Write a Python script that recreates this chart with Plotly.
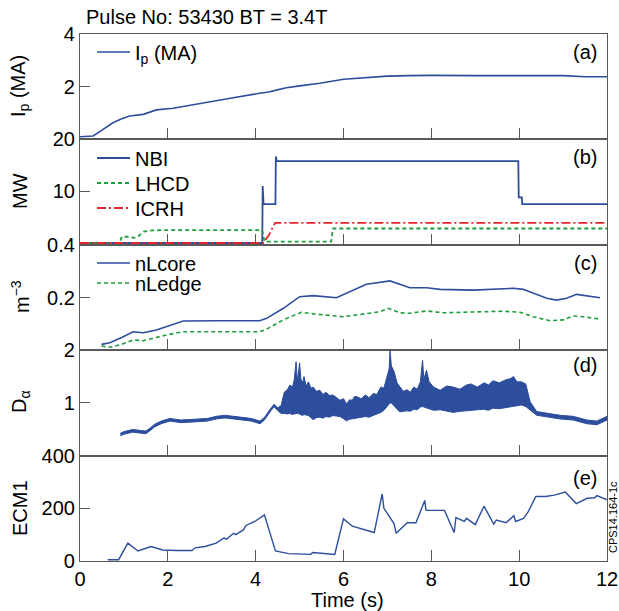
import plotly.graph_objects as go
from plotly.subplots import make_subplots

# ---------------- data ----------------
ip_t = [0, 0.3, 0.5, 0.75, 0.95, 1.13, 1.44, 1.6, 1.74, 2.12, 2.73, 3.49, 4.09, 4.3, 4.47, 4.7, 5.0, 5.46,
        6.0, 6.5, 7.0, 7.5, 8.0, 9.0, 10.0, 10.5, 11.0, 11.5, 12.0]
ip_v = [0.1, 0.13, 0.35, 0.63, 0.78, 0.89, 0.95, 1.03, 1.12, 1.18, 1.37, 1.58, 1.75, 1.8, 1.87, 1.96, 2.03, 2.13,
        2.28, 2.33, 2.4, 2.42, 2.43, 2.42, 2.43, 2.42, 2.42, 2.38, 2.38]

nbi_t = [0, 4.15, 4.16, 4.18, 4.45, 4.46, 4.48, 9.98, 9.99, 10.06, 10.07, 12]
nbi_v = [0, 0, 11, 7.5, 7.5, 16.7, 15.8, 15.8, 8.8, 8.8, 7.5, 7.5]

lhcd_t = [0, 0.9, 0.95, 1.15, 1.22, 1.3, 1.45, 1.65, 2.0, 4.15, 4.2, 5.72, 5.76, 12]
lhcd_v = [0, 0, 1.2, 1.2, 1.0, 1.1, 2.2, 2.45, 2.48, 2.48, 0.28, 0.28, 2.8, 2.8]

icrh_t = [0, 4.17, 4.3, 4.44, 12]
icrh_v = [0, 0, 1.5, 3.9, 3.9]

core_t = [0.49, 0.68, 0.95, 1.21, 1.32, 1.44, 1.74, 2.0, 2.35, 3.1, 4.09, 4.25, 4.63, 5.0, 5.31, 5.84, 6.07,
          6.52, 7.06, 7.51, 7.89, 8.2, 8.95, 9.87, 10.09, 10.63, 10.85, 11.08, 11.31, 11.61, 11.84]
core_v = [0.022, 0.028, 0.048, 0.070, 0.068, 0.066, 0.077, 0.092, 0.111, 0.112, 0.112, 0.121, 0.159, 0.203,
          0.207, 0.199, 0.216, 0.25, 0.263, 0.237, 0.237, 0.231, 0.228, 0.235, 0.231, 0.197, 0.19, 0.197,
          0.212, 0.206, 0.199]

edge_t = [0.49, 0.68, 0.95, 1.21, 1.44, 1.97, 2.35, 4.09, 4.25, 4.63, 5.04, 5.31, 6.0, 6.3, 6.83, 7.02, 7.28,
          7.51, 7.89, 8.27, 8.95, 9.64, 10.02, 10.32, 10.7, 11.0, 11.23, 11.46, 11.84]
edge_v = [0.016, 0.011, 0.022, 0.039, 0.036, 0.058, 0.070, 0.070, 0.080, 0.115, 0.144, 0.138, 0.127, 0.134,
          0.146, 0.159, 0.142, 0.140, 0.149, 0.142, 0.144, 0.148, 0.144, 0.127, 0.112, 0.115, 0.130, 0.127,
          0.118]

# D-alpha: lower / upper envelope of the band
da_t = [0.92, 1.0, 1.2, 1.35, 1.5, 1.6, 1.7, 1.85, 2.05, 2.3, 2.6, 2.9, 3.1, 3.3, 3.6, 3.9, 4.1, 4.2, 4.35,
        4.42, 4.5, 4.58,
        4.65, 4.72, 4.78, 4.84, 4.88, 4.92, 4.95, 5.0, 5.03, 5.07, 5.1, 5.15, 5.2, 5.26, 5.31, 5.38, 5.46, 5.53,
        5.6, 5.68, 5.76, 5.84, 5.92, 6.0, 6.07, 6.14, 6.2, 6.25, 6.3, 6.4, 6.5, 6.58, 6.68, 6.76, 6.85, 6.92,
        6.98, 7.04, 7.06, 7.09, 7.15, 7.22, 7.28, 7.36, 7.45, 7.52, 7.6, 7.68, 7.75, 7.8, 7.83, 7.89, 7.95,
        8.05, 8.2, 8.35, 8.5, 8.65, 8.8, 8.9, 9.05, 9.2, 9.3, 9.4, 9.55, 9.7, 9.8, 9.87, 9.95, 10.05, 10.15,
        10.25,
        10.4, 10.63, 10.93, 11.23, 11.4, 11.54, 11.77, 12.0]
da_lo = [0.375, 0.405, 0.445, 0.435, 0.415, 0.475, 0.545, 0.605, 0.655, 0.625, 0.635, 0.655, 0.695, 0.715,
         0.685, 0.655, 0.605, 0.675, 0.855, 0.925, 0.855, 0.80,
         0.80, 0.79, 0.80, 0.78, 0.79, 0.80, 0.80, 0.79, 0.78, 0.76, 0.78, 0.77, 0.76, 0.72, 0.68, 0.72, 0.73,
         0.71, 0.74, 0.73, 0.76, 0.75, 0.74, 0.70, 0.66, 0.69, 0.70, 0.71, 0.72, 0.73, 0.74, 0.73, 0.76, 0.78,
         0.82, 0.86, 0.92, 0.98, 1.00, 1.00, 0.95, 0.88, 0.83, 0.84, 0.85, 0.84, 0.88, 0.87, 0.92, 0.93, 0.92,
         0.90, 0.88, 0.86, 0.87, 0.84, 0.82, 0.84, 0.85, 0.86, 0.87, 0.88, 0.86, 0.90, 0.89, 0.91, 0.93, 0.94,
         0.95, 0.96, 0.93, 0.86,
         0.765, 0.735, 0.695, 0.675, 0.635, 0.605, 0.585, 0.675]
da_hi = [0.425, 0.455, 0.495, 0.485, 0.465, 0.525, 0.595, 0.655, 0.705, 0.675, 0.685, 0.705, 0.745, 0.765,
         0.735, 0.705, 0.655, 0.725, 0.905, 0.975, 0.905, 0.95,
         1.20, 1.25, 1.34, 1.30, 1.45, 1.78, 1.40, 1.76, 1.45, 1.38, 1.50, 1.32, 1.40, 1.28, 1.30, 1.22, 1.24,
         1.16, 1.20, 1.14, 1.15, 1.10, 1.05, 1.08, 0.98, 1.06, 1.05, 1.12, 1.12, 1.08, 1.15, 1.10, 1.18, 1.16,
         1.30, 1.28, 1.45, 1.65, 2.00, 1.70, 1.60, 1.38, 1.31, 1.22, 1.25, 1.20, 1.30, 1.26, 1.40, 1.81, 1.45,
         1.62, 1.40, 1.30, 1.24, 1.32, 1.30, 1.26, 1.34, 1.36, 1.30, 1.38, 1.34, 1.42, 1.38, 1.44, 1.46, 1.50,
         1.40, 1.40, 1.36, 1.02,
         0.835, 0.805, 0.765, 0.745, 0.705, 0.675, 0.655, 0.745]

ecm_t = [0.63, 0.88, 1.09, 1.32, 1.62, 1.8, 1.88, 2.2, 2.28, 2.45, 2.55, 2.62, 2.85, 3.1, 3.28, 3.33, 3.5,
         3.55, 3.72, 3.78, 3.98, 4.2, 4.45, 4.75, 5.1, 5.25, 5.3, 5.55, 5.8, 6.0, 6.2, 6.7, 6.88, 6.92, 7.15,
         7.2, 7.45, 7.65, 7.85, 7.88, 8.3, 8.52, 8.56, 8.75, 8.8, 9.0, 9.2, 9.42, 9.48, 9.7, 9.88, 9.92, 10.1,
         10.2, 10.38, 10.6, 10.8, 11.05, 11.3, 11.55, 11.72, 11.77, 12.0]
ecm_v = [5, 5, 68, 38, 55, 45, 42, 40, 40, 38, 40, 50, 55, 68, 88, 82, 105, 100, 118, 135, 150, 175, 38, 28,
         26, 25, 32, 28, 25, 160, 132, 108, 255, 200, 142, 105, 145, 145, 230, 192, 192, 108, 165, 150, 162,
         138, 208, 140, 155, 145, 172, 150, 162, 185, 245, 245, 250, 262, 218, 238, 240, 248, 232]

y_ranges = [[0, 4], [-0.35, 20], [0, 0.4], [0, 2], [0, 400]]
y_tickvals = [[2, 4], [10, 20], [0.2, 0.4], [1, 2], [0, 200, 400]]
y_ticktext = [["2", "4"], ["10", "20"], ["0.2", "0.4"], ["1", "2"], ["0", "200", "400"]]
y_titles = ["I<sub>p</sub> (MA)", "MW", "m<sup>\u22123</sup>", "D<sub>\u03b1</sub>", "ECM1"]
panel_tags = ["(a)", "(b)", "(c)", "(d)", "(e)"]
x_ticks = [0, 2, 4, 6, 8, 10, 12]

# ---------------- style ----------------
BLUE = "#2c4e9c"
GREEN = "#1f9d3c"
RED = "#e3242b"
AX = "#5a5a5a"
FONT = "Liberation Sans, Arial, Helvetica, sans-serif"

W, H = 619, 611
ML, MR, MT, MB = 80, 12, 34, 50
PW = W - ML - MR
PH = H - MT - MB


def px(x):
    return (x - ML) / PW


def py(y):
    return (H - MB - y) / PH


fig = make_subplots(rows=5, cols=1, shared_xaxes=True, vertical_spacing=0)

fig.add_trace(go.Scatter(x=ip_t, y=ip_v, mode="lines", name="I<sub>p</sub> (MA)",
                         line=dict(color=BLUE, width=1.6), legend="legend"), row=1, col=1)

fig.add_trace(go.Scatter(x=nbi_t, y=nbi_v, mode="lines", name="NBI",
                         line=dict(color=BLUE, width=1.8), legend="legend2"), row=2, col=1)
fig.add_trace(go.Scatter(x=lhcd_t, y=lhcd_v, mode="lines", name="LHCD",
                         line=dict(color=GREEN, width=1.8, dash="4px,3px"), legend="legend3"), row=2, col=1)
fig.add_trace(go.Scatter(x=icrh_t, y=icrh_v, mode="lines", name="ICRH",
                         line=dict(color=RED, width=1.8, dash="9px,3px,2px,3px"), legend="legend4"), row=2, col=1)

fig.add_trace(go.Scatter(x=core_t, y=core_v, mode="lines", name="nLcore",
                         line=dict(color=BLUE, width=1.6), legend="legend5"), row=3, col=1)
fig.add_trace(go.Scatter(x=edge_t, y=edge_v, mode="lines", name="nLedge",
                         line=dict(color=GREEN, width=1.6, dash="4px,3px"), legend="legend6"), row=3, col=1)

fig.add_trace(go.Scatter(x=da_t, y=da_lo, mode="lines", showlegend=False,
                         line=dict(color=BLUE, width=1)), row=4, col=1)
fig.add_trace(go.Scatter(x=da_t, y=da_hi, mode="lines", showlegend=False, fill="tonexty",
                         fillcolor=BLUE, line=dict(color=BLUE, width=1)), row=4, col=1)

fig.add_trace(go.Scatter(x=ecm_t, y=ecm_v, mode="lines", showlegend=False,
                         line=dict(color=BLUE, width=1.4)), row=5, col=1)

for i in range(5):
    r = i + 1
    fig.update_xaxes(row=r, col=1, range=[0, 12], tickvals=x_ticks, ticks="inside", ticklen=11,
                     tickcolor=AX, tickwidth=1.2, showline=True, linecolor=AX, linewidth=1.2, mirror=True,
                     showgrid=False, zeroline=False, showticklabels=(r == 5), automargin=False,
                     tickfont=dict(size=20, color="black", family=FONT))
    fig.update_yaxes(row=r, col=1, range=y_ranges[i], tickvals=y_tickvals[i], ticktext=y_ticktext[i],
                     ticks="inside", ticklen=10, tickcolor=AX, tickwidth=1.2, showline=True, linecolor=AX,
                     linewidth=1.2, mirror=True, showgrid=False, zeroline=False, automargin=False,
                     tickfont=dict(size=20, color="black", family=FONT))

annotations = []
title_y = [86, 191, 297, 402, 508]
for i in range(5):
    annotations.append(dict(text=y_titles[i], xref="paper", yref="paper", x=px(20), y=py(title_y[i]),
                            xanchor="center", yanchor="middle", textangle=-90, showarrow=False,
                            font=dict(size=20, color="black", family=FONT)))
tag_y = [52, 157, 263, 365, 478]
for i in range(5):
    annotations.append(dict(text=panel_tags[i], xref="paper", yref="paper", x=px(599), y=py(tag_y[i]),
                            xanchor="right", yanchor="middle", showarrow=False,
                            font=dict(size=20, color="black", family=FONT)))
annotations.append(dict(text="Pulse No: 53430 BT = 3.4T", xref="paper", yref="paper", x=px(84), y=py(17),
                        xanchor="left", yanchor="middle", showarrow=False,
                        font=dict(size=20, color="black", family=FONT)))
annotations.append(dict(text="Time (s)", xref="paper", yref="paper", x=px(347), y=py(600),
                        xanchor="center", yanchor="middle", showarrow=False,
                        font=dict(size=20, color="black", family=FONT)))
annotations.append(dict(text="CPS14.164-1c", xref="paper", yref="paper", x=px(613), y=py(517),
                        xanchor="center", yanchor="middle", textangle=-90, showarrow=False,
                        font=dict(size=11, color="black", family=FONT)))


def leg(y):
    return dict(x=px(92), y=py(y), xanchor="left", yanchor="middle", bgcolor="rgba(0,0,0,0)",
                borderwidth=0, itemwidth=33, font=dict(size=20, color="black", family=FONT))


fig.update_layout(
    width=W, height=H, margin=dict(l=ML, r=MR, t=MT, b=MB, autoexpand=False),
    paper_bgcolor="white", plot_bgcolor="white",
    font=dict(family=FONT, size=20, color="black"),
    annotations=annotations,
    showlegend=True,
    legend=leg(52), legend2=leg(158), legend3=leg(183), legend4=leg(208),
    legend5=leg(263), legend6=leg(283),
)

fig.write_html("out.html")
